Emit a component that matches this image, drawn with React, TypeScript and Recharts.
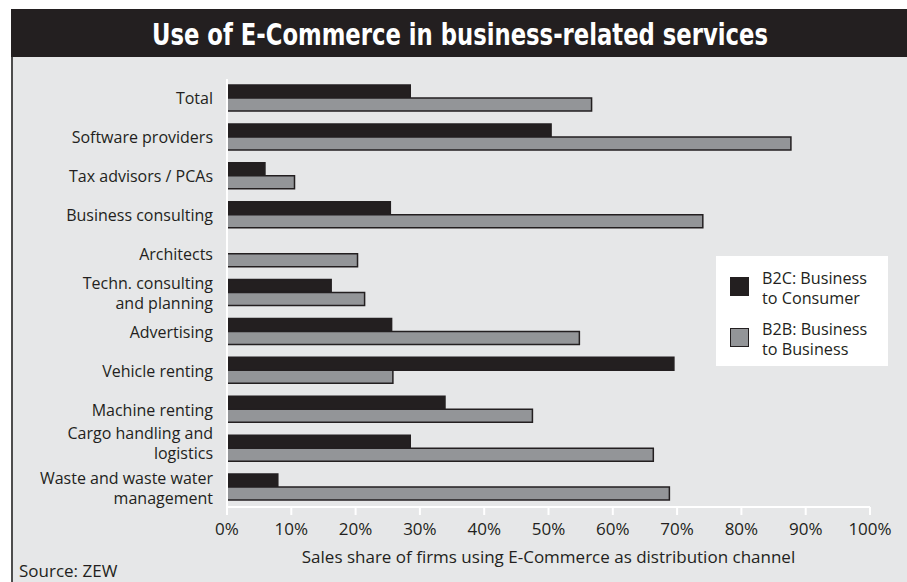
import { BarChart, Bar, XAxis, YAxis } from 'recharts';

const categories = [
  'Total',
  'Software providers',
  'Tax advisors / PCAs',
  'Business consulting',
  'Architects',
  'Techn. consulting\nand planning',
  'Advertising',
  'Vehicle renting',
  'Machine renting',
  'Cargo handling and\nlogistics',
  'Waste and waste water\nmanagement',
];

// Anteil in %
const b2c = [28.5, 50.4, 5.9, 25.4, 0, 16.2, 25.6, 69.5, 33.9, 28.5, 7.9];
const b2b = [56.7, 87.7, 10.5, 74.0, 20.3, 21.4, 54.8, 25.8, 47.5, 66.3, 68.8];

const xTicks = [0, 10, 20, 30, 40, 50, 60, 70, 80, 90, 100];

const seriesNames = ['B2C: Business\nto Consumer', 'B2B: Business\nto Business'];

const INK = '#231f20';
const GREY = '#939598';
const FONT = '"Open Sans", "Noto Sans", sans-serif';

const data = categories.map((name, i) => ({ name, b2c: b2c[i], b2b: b2b[i] }));

function CategoryTick({ x, y, payload, index }: any) {
  const lines = String(payload.value).split('\n');
  const lh = 20;
  // im Original sitzt das vorletzte Label etwas höher
  const shift = index === categories.length - 2 ? -6 : 0;
  return (
    <text
      x={x}
      y={y + shift}
      textAnchor="end"
      dominantBaseline="central"
      fill={INK}
      fontSize={16}
      fontFamily={FONT}
    >
      {lines.map((l, i) => (
        <tspan key={i} x={x} dy={i === 0 ? -((lines.length - 1) * lh) / 2 : lh}>
          {l}
        </tspan>
      ))}
    </text>
  );
}

export default function App() {
  return (
    <div
      style={{
        position: 'fixed',
        left: 0,
        top: 0,
        width: 907,
        height: 582,
        background: '#fff',
        fontFamily: FONT,
        color: INK,
        overflow: 'hidden',
      }}
    >
      {/* Titelleiste */}
      <svg
        width={896}
        height={48}
        style={{ position: 'absolute', left: 11, top: 9, background: INK }}
      >
        <text
          x={449}
          y={25}
          textAnchor="middle"
          dominantBaseline="central"
          fill="#fff"
          fontSize={30}
          fontWeight="bold"
          fontFamily='"DejaVu Sans Condensed", "DejaVu Sans", sans-serif'
          textLength={616}
          lengthAdjust="spacingAndGlyphs"
        >
          Use of E-Commerce in business-related services
        </text>
      </svg>

      {/* Hintergrund */}
      <div
        style={{
          position: 'absolute',
          left: 11,
          top: 57,
          width: 894,
          height: 525,
          background: '#e6e7e8',
          borderLeft: '2px solid #4d4d4d',
          borderRight: '1px solid #9a9a9a',
        }}
      />

      <div style={{ position: 'absolute', left: 0, top: 0 }}>
        <BarChart
          width={907}
          height={582}
          data={data}
          layout="vertical"
          margin={{ top: 79, right: 37, bottom: 45, left: 0 }}
          barGap={0}
          barSize={13}
        >
          <XAxis
            type="number"
            domain={[0, 100]}
            ticks={xTicks}
            interval={0}
            height={30}
            tickFormatter={(v) => v + '%'}
            axisLine={{ stroke: '#fff', strokeWidth: 2 }}
            tickLine={{ stroke: '#fff', strokeWidth: 2 }}
            tickSize={8}
            tickMargin={8}
            tick={{ fill: INK, fontSize: 17, fontFamily: FONT }}
          />
          <YAxis
            type="category"
            dataKey="name"
            width={227}
            interval={0}
            axisLine={{ stroke: '#fff', strokeWidth: 2 }}
            tickLine={false}
            tickSize={0}
            tickMargin={14}
            tick={<CategoryTick />}
          />
          <Bar dataKey="b2c" fill={INK} stroke={INK} strokeWidth={1.5} isAnimationActive={false} />
          <Bar dataKey="b2b" fill={GREY} stroke={INK} strokeWidth={1.5} isAnimationActive={false} />
        </BarChart>
      </div>

      {/* Legende */}
      <div
        style={{
          position: 'absolute',
          left: 716,
          top: 256,
          width: 172,
          height: 110,
          background: '#fff',
        }}
      >
        {seriesNames.map((s, i) => (
          <div
            key={s}
            style={{ position: 'absolute', left: 14, top: 12 + i * 51, display: 'flex' }}
          >
            <div
              style={{
                width: 19,
                height: 19,
                marginTop: 9,
                background: i === 0 ? INK : GREY,
                border: `1px solid ${INK}`,
                boxSizing: 'border-box',
              }}
            />
            <div
              style={{
                marginLeft: 13,
                fontSize: 16.2,
                lineHeight: '20px',
                whiteSpace: 'pre',
              }}
            >
              {s}
            </div>
          </div>
        ))}
      </div>

      <div
        style={{
          position: 'absolute',
          left: 227,
          width: 643,
          top: 545,
          textAlign: 'center',
          fontSize: 17,
          lineHeight: '24px',
        }}
      >
        Sales share of firms using E-Commerce as distribution channel
      </div>

      <div
        style={{
          position: 'absolute',
          left: 19,
          top: 559,
          fontSize: 17,
          lineHeight: '24px',
        }}
      >
        Source: ZEW
      </div>
    </div>
  );
}
